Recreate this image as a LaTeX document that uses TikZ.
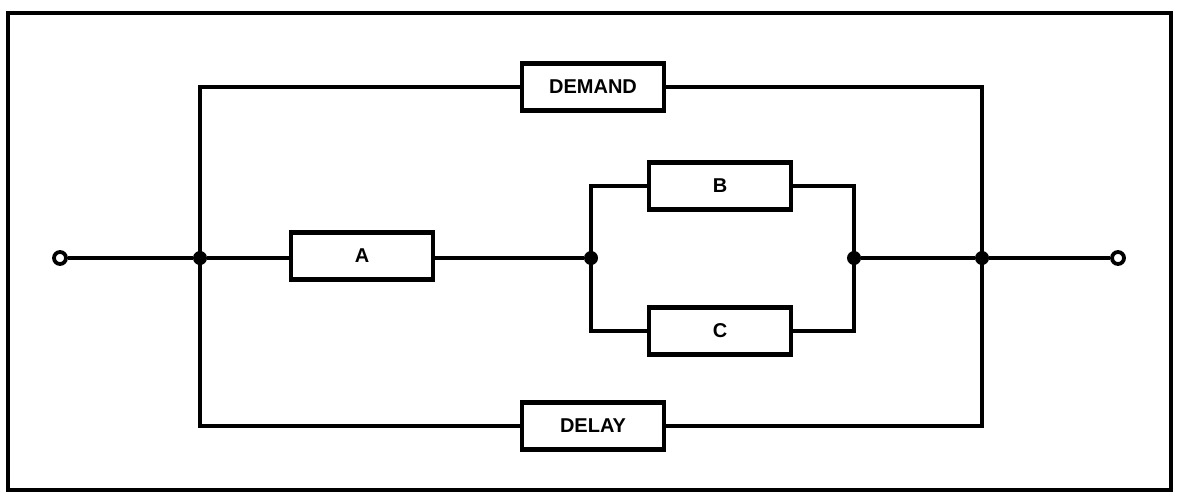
\documentclass[tikz,border=0pt]{standalone}
\usepackage{fontspec}
\setmainfont{Liberation Sans}
\begin{document}
\begin{tikzpicture}[x=1pt,y=-1pt,
  blk/.style={draw,line width=4.5pt,minimum width=142pt,minimum height=47pt,inner sep=0pt,font=\bfseries\fontsize{20}{20}\selectfont},
  wire/.style={line width=3.8pt},
  dot/.style={circle,fill=black,inner sep=0pt,minimum size=14pt},
  term/.style={circle,draw,fill=white,line width=3.8pt,inner sep=0pt,minimum size=12pt}]
\useasboundingbox (0,0) rectangle (1182,501);
\fill[white] (0,0) rectangle (1182,501);
\draw[line width=3.5pt] (8,13) rectangle (1171,490);
\node[term] (in) at (60,258) {};
\node[dot] (j1) at (200,258) {};
\node[blk] (A) at (362,256) {A};
\node[dot] (j2) at (591,258) {};
\node[blk] (B) at (720,186) {B};
\node[blk] (C) at (720,331) {C};
\node[dot] (j3) at (854,258) {};
\node[dot] (j4) at (982,258) {};
\node[term] (out) at (1118,258) {};
\node[blk] (dem) at (593,87) {DEMAND};
\node[blk] (del) at (593,426) {DELAY};
\draw[wire] (in) -- (j1);
\draw[wire] (j1) -- (A.west |- j1);
\draw[wire] (A.east |- j2) -- (j2);
\draw[wire] (j2.center) |- (B);
\draw[wire] (B) -| (j3.center);
\draw[wire] (j2.center) |- (C);
\draw[wire] (C) -| (j3.center);
\draw[wire] (j3) -- (j4);
\draw[wire] (j4) -- (out);
\draw[wire] (j1.center) |- (dem);
\draw[wire] (dem) -| (j4.center);
\draw[wire] (j1.center) |- (del);
\draw[wire] (del) -| (j4.center);
\end{tikzpicture}
\end{document}
